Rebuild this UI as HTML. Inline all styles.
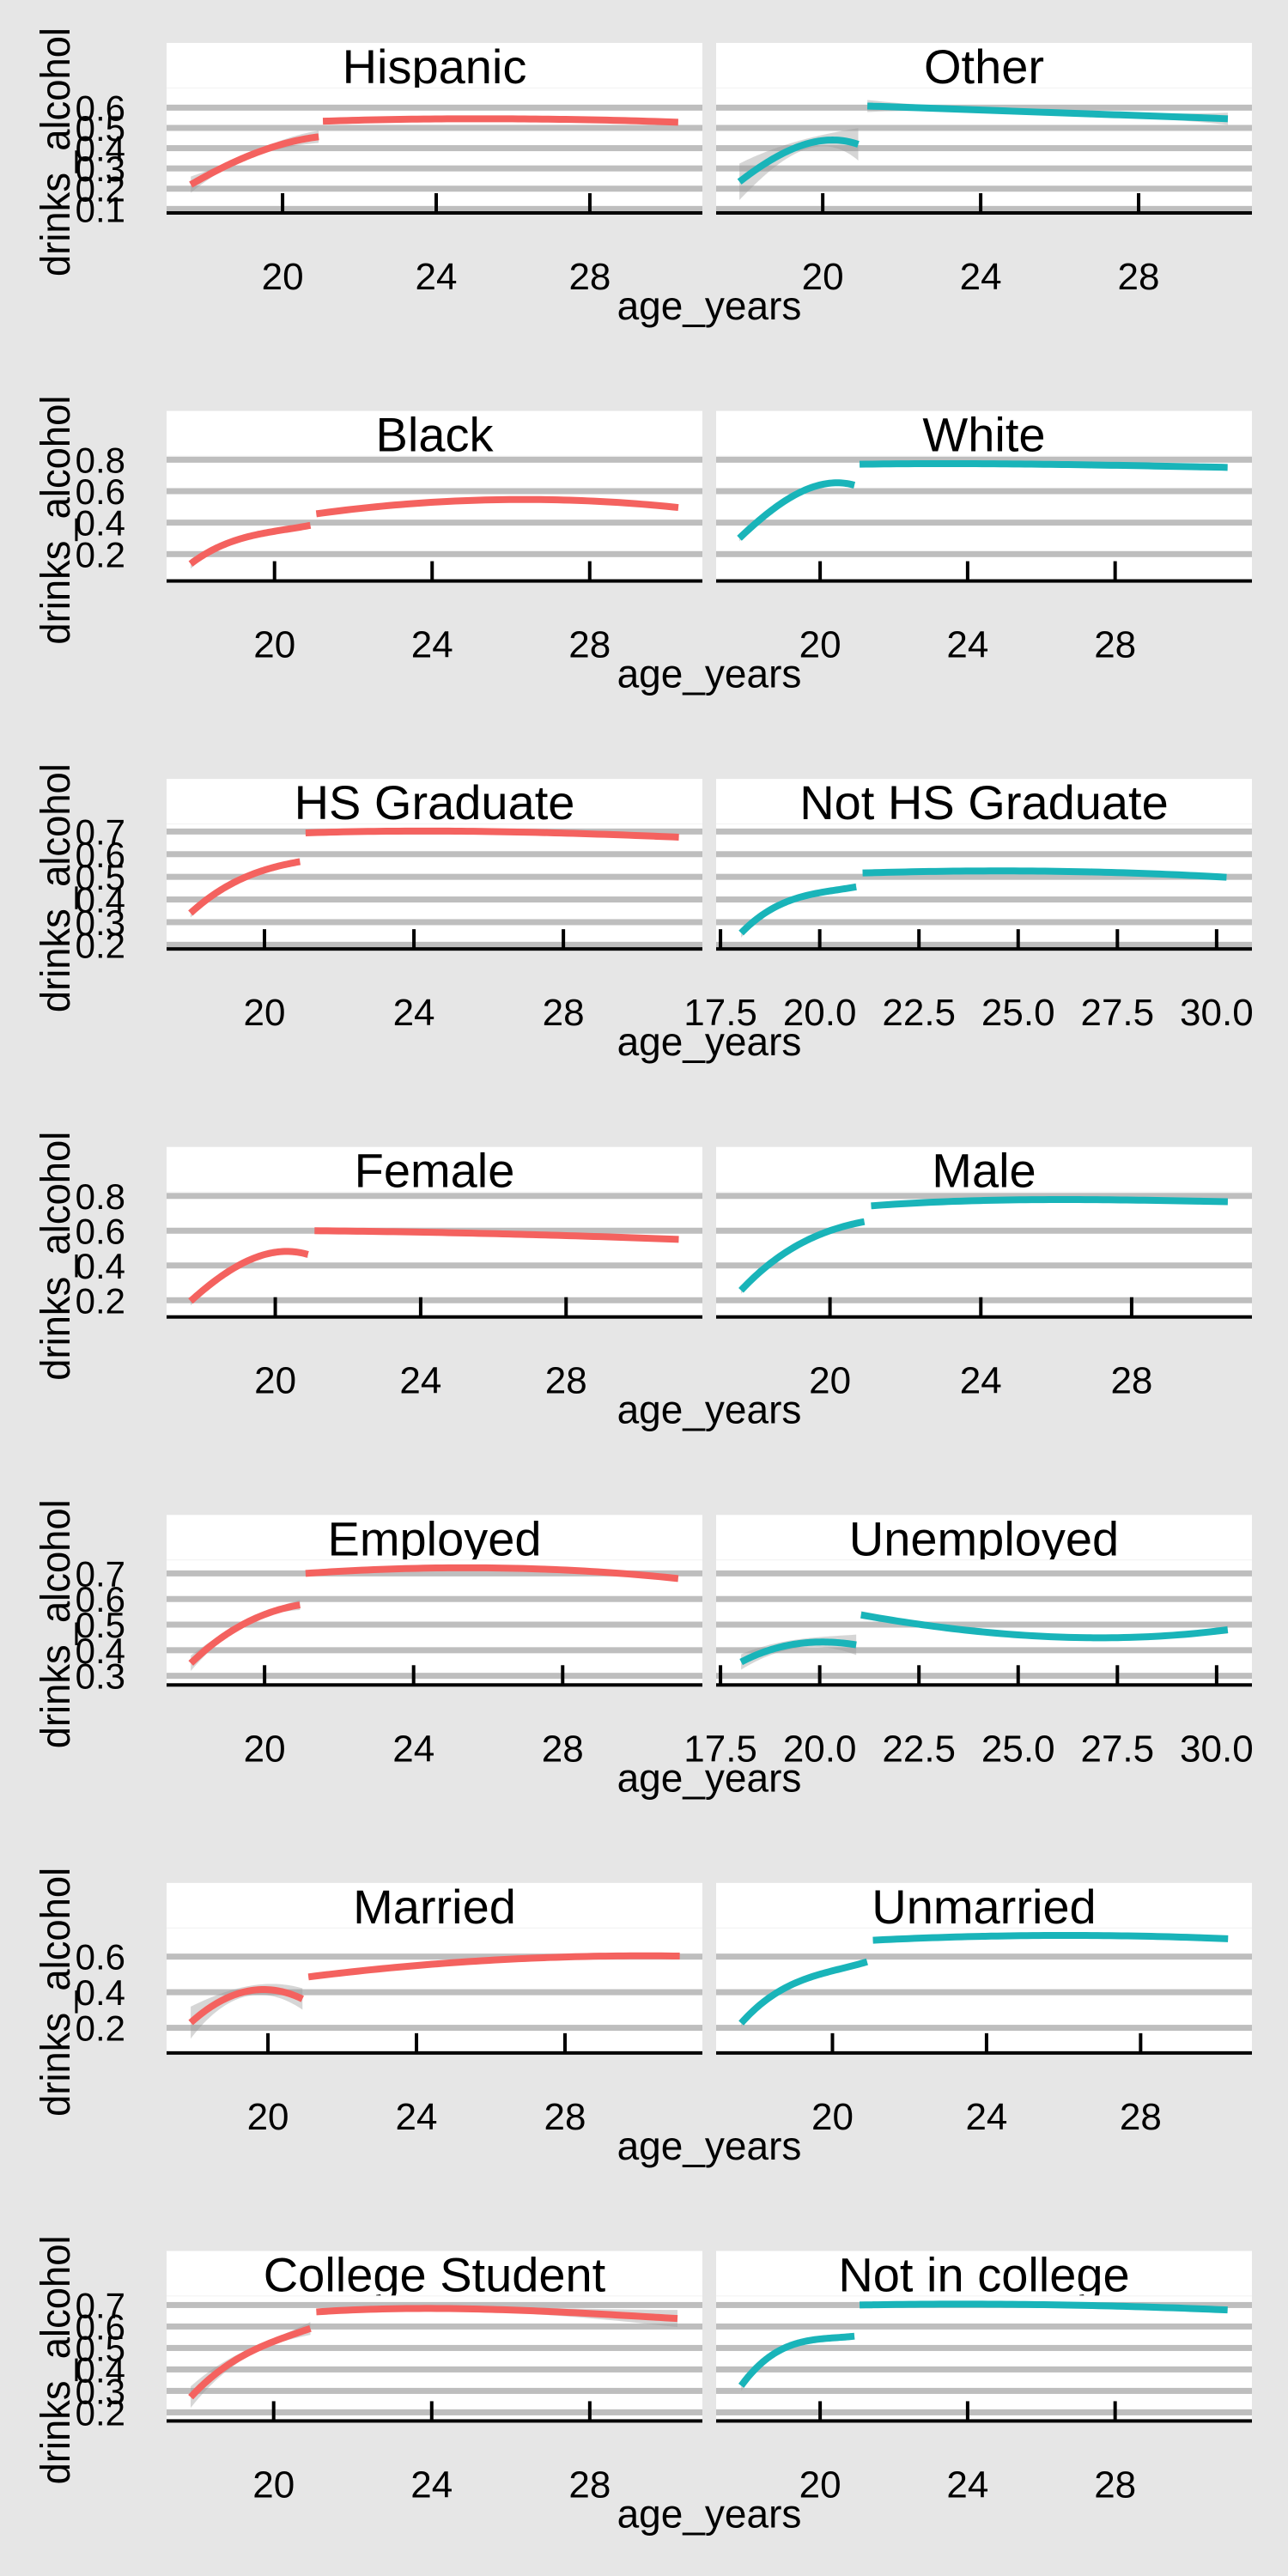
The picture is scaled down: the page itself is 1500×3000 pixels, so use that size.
<!DOCTYPE html>
<html><head><meta charset="utf-8">
<style>
html,body{margin:0;padding:0;background:#e6e6e6;}
svg{display:block;font-family:"Liberation Sans",Arial,sans-serif;}
</style></head>
<body>
<svg id="chart" width="1500" height="3000" viewBox="0 0 1500 3000" xmlns="http://www.w3.org/2000/svg">
<rect x="0" y="0" width="1500" height="3000" fill="#e6e6e6"/>
</svg>
<script>
const panelTitles = ["Hispanic","Other","Black","White","HS Graduate","Not HS Graduate","Female","Male","Employed","Unemployed","Married","Unmarried","College Student","Not in college"];
const rowYTicks = [
  [0.1,0.2,0.3,0.4,0.5,0.6],
  [0.2,0.4,0.6,0.8],
  [0.2,0.3,0.4,0.5,0.6,0.7],
  [0.2,0.4,0.6,0.8],
  [0.3,0.4,0.5,0.6,0.7],
  [0.2,0.4,0.6],
  [0.2,0.3,0.4,0.5,0.6,0.7]
];
const rowYDomain = [[0.076,0.699],[0.024,0.826],[0.178,0.735],[0.099,0.825],[0.261,0.754],[0.054,0.763],[0.156,0.744]];
const panelXDomain = [[16.98,30.93],[17.30,30.87],[17.26,30.86],[17.18,31.71],[17.38,31.72],[17.39,30.89],[17.01,31.75],[16.98,31.19],[17.37,31.75],[17.39,30.89],[17.27,31.70],[16.98,30.89],[17.29,30.85],[17.18,31.71]];
const xTicksStd = [20,24,28];
const xTicksFine = [17.5,20,22.5,25,27.5,30];
const panelUsesFineTicks = [false,false,false,false,false,true,false,false,false,true,false,false,false,false];

const seg1Ages = [
  [17.61,18.5,19.5,20.94],[17.89,18.93,20.08,20.9],[17.87,19.08,20.0,20.91],[17.81,18.93,20.49,20.93],
  [18.02,19.08,20.1,20.95],[18.02,19.01,20.0,20.92],[17.67,18.76,20.45,20.90],[17.64,18.91,20.0,20.91],
  [18.02,19.07,20.18,20.95],[18.02,18.81,20.05,20.92],[17.92,18.76,19.87,20.93],[17.63,18.87,20.0,20.90],
  [17.90,19.10,20.0,20.93],[17.86,18.93,20.2,20.93]
];
const seg1Vals = [
  [0.22,0.31,0.39,0.456],[0.234,0.368,0.439,0.419],[0.138,0.293,0.345,0.383],[0.301,0.520,0.653,0.638],
  [0.340,0.466,0.535,0.567],[0.252,0.378,0.43,0.456],[0.195,0.372,0.480,0.463],[0.257,0.487,0.60,0.652],
  [0.349,0.471,0.549,0.577],[0.354,0.404,0.432,0.421],[0.229,0.354,0.415,0.362],[0.226,0.435,0.52,0.571],
  [0.271,0.451,0.53,0.591],[0.324,0.491,0.545,0.555]
];
const seg1Se = [
  [0.04,0.015,0.015,0.03],[0.09,0.04,0.03,0.08],[0.03,0.01,0.01,0.02],[0.02,0.008,0.01,0.015],
  [0.02,0.008,0.008,0.015],[0.02,0.01,0.01,0.015],[0.025,0.01,0.01,0.02],[0.02,0.01,0.008,0.015],
  [0.03,0.01,0.01,0.02],[0.03,0.02,0.02,0.04],[0.09,0.04,0.03,0.06],[0.02,0.008,0.008,0.01],
  [0.05,0.02,0.015,0.03],[0.025,0.01,0.01,0.015]
];
const seg2Ages = [
  [21.05,23,25.5,28,30.3],[21.13,23.2,25.17,27.7,30.26],[21.06,23.46,26.38,30.25],[21.07,24.49,27.8,31.05],
  [21.1,24.36,28,31.09],[21.08,24.81,28,30.25],[21.08,25.99,31.1],[21.09,23.05,26.32,30.55],
  [21.1,25.25,28.5,31.1],[21.04,23.15,25.0,26.67,30.28],[21.09,23.84,26.67,31.09],[21.05,25.91,30.27],
  [21.08,23.89,27.63,30.22],[21.07,24.49,28,31.05]
];
const seg2Vals = [
  [0.533,0.542,0.545,0.540,0.528],[0.608,0.594,0.580,0.563,0.545],[0.456,0.520,0.547,0.496],[0.771,0.774,0.765,0.751],
  [0.694,0.702,0.693,0.675],[0.517,0.526,0.516,0.498],[0.600,0.583,0.550],[0.743,0.767,0.779,0.767],
  [0.700,0.722,0.710,0.680],[0.538,0.488,0.460,0.449,0.480],[0.486,0.547,0.587,0.603],[0.692,0.719,0.700],
  [0.668,0.684,0.664,0.637],[0.700,0.704,0.695,0.677]
];
const seg2Se = [
  [0.01,0.006,0.006,0.006,0.012],[0.03,0.012,0.01,0.012,0.03],[0.012,0.006,0.006,0.012],[0.008,0.004,0.004,0.008],
  [0.008,0.004,0.004,0.01],[0.01,0.005,0.005,0.012],[0.008,0.004,0.01],[0.01,0.005,0.005,0.01],
  [0.008,0.004,0.005,0.012],[0.015,0.008,0.008,0.008,0.015],[0.01,0.005,0.005,0.01],[0.008,0.004,0.008],
  [0.015,0.01,0.02,0.04],[0.006,0.004,0.004,0.008]
];

const NS = "http://www.w3.org/2000/svg";
const svg = document.getElementById('chart');
const ROW_H = 3000/7;
const PANEL_X = [[194,818],[834,1458]];
const COLORS = ["#f4625f","#19b4b9"];
function mk(tag, attrs, parent){
  const e = document.createElementNS(NS, tag);
  for (const k in attrs) e.setAttribute(k, attrs[k]);
  (parent||svg).appendChild(e);
  return e;
}
function lagrange(xs, ys, x){
  let s = 0;
  for (let i = 0; i < xs.length; i++){
    let t = ys[i];
    for (let j = 0; j < xs.length; j++) if (j !== i) t *= (x - xs[j])/(xs[i] - xs[j]);
    s += t;
  }
  return s;
}
function sampleSeg(ages, vals, n){
  const out = [];
  const a0 = ages[0], a1 = ages[ages.length-1];
  for (let k = 0; k <= n; k++){
    const a = a0 + (a1 - a0)*k/n;
    out.push([a, lagrange(ages, vals, a)]);
  }
  return out;
}
function poly(pts){ return pts.map((p,i)=>(i?"L":"M")+p[0].toFixed(2)+","+p[1].toFixed(2)).join(" "); }

for (let r = 0; r < 7; r++){
  const oy = r*ROW_H;
  const top = oy+102, bot = oy+249;
  const [ylo, yhi] = rowYDomain[r];
  const yScale = v => bot - (v - ylo)/(yhi - ylo)*(bot - top);

  const yt = mk('text', {x:81, y:oy+177, 'font-size':48, 'text-anchor':'middle', fill:'#000',
    transform:'rotate(-90 81 '+(oy+177)+')', textLength:290, lengthAdjust:'spacingAndGlyphs'});
  
  
  yt.textContent = 'drinks_alcohol';

  rowYTicks[r].forEach(v => {
    const t = mk('text', {x:146, y:yScale(v)+15, 'font-size':42, 'text-anchor':'end', fill:'#000'});
    
    
    t.textContent = v.toFixed(1);
  });

  const xt = mk('text', {x:826, y:oy+372, 'font-size':46, 'text-anchor':'middle', fill:'#000'});
  
  
  xt.textContent = 'age_years';

  for (let c = 0; c < 2; c++){
    const p = r*2 + c;
    const [x0, x1] = PANEL_X[c];
    const [xlo, xhi] = panelXDomain[p];
    const xScale = a => x0 + (a - xlo)/(xhi - xlo)*(x1 - x0);
    const g = mk('g', {});
    
    

    const st = mk('rect', {x:x0, y:oy+50, width:x1-x0, height:52, fill:'#ffffff'}, g);
    
    
    const stt = mk('text', {x:(x0+x1)/2, y:oy+97, 'font-size':56, 'text-anchor':'middle', fill:'#000'}, g);
    
    
    stt.textContent = panelTitles[p];

    const pb = mk('rect', {x:x0, y:top, width:x1-x0, height:bot-top, fill:'#ffffff'}, g);
    
    
    mk('line', {x1:x0, x2:x1, y1:top+0.5, y2:top+0.5, stroke:'#f3f3f3', 'stroke-width':1}, g);

    rowYTicks[r].forEach(v => {
      const gl = mk('rect', {x:x0, y:yScale(v)-3.5, width:x1-x0, height:7, fill:'#bebebe'}, g);
      
      
    });

    const cid = 'clip' + p;
    const cp = mk('clipPath', {id:cid}, g);
    mk('rect', {x:x0, y:top, width:x1-x0, height:bot-top}, cp);
    const dg = mk('g', {'clip-path':'url(#'+cid+')'}, g);

    const segs = [[seg1Ages[p], seg1Vals[p], seg1Se[p]], [seg2Ages[p], seg2Vals[p], seg2Se[p]]];
    segs.forEach((s, si) => {
      const [ages, vals, se] = s;
      const mid = sampleSeg(ages, vals, 60);
      const sd = sampleSeg(ages, se, 60);
      const up = mid.map((q,i) => [xScale(q[0]), yScale(q[1] + Math.max(0.002, sd[i][1]))]);
      const lo = mid.map((q,i) => [xScale(q[0]), yScale(q[1] - Math.max(0.002, sd[i][1]))]).reverse();
      const rib = mk('path', {d: poly(up.concat(lo)) + " Z", fill:'#999999', 'fill-opacity':0.4}, dg);
      
      
      const pts = mid.map(q => [xScale(q[0]), yScale(q[1])]);
      const ln = mk('path', {d: poly(pts), fill:'none', stroke:COLORS[c], 'stroke-width':8, 'stroke-linejoin':'round'}, dg);
      
      
    });

    const ax = mk('rect', {x:x0, y:oy+246, width:x1-x0, height:4, fill:'#000'}, g);
    
    
    const ticks = panelUsesFineTicks[p] ? xTicksFine : xTicksStd;
    ticks.forEach(tv => {
      const tx = xScale(tv);
      const tk = mk('line', {x1:tx, x2:tx, y1:oy+225, y2:oy+248, stroke:'#000', 'stroke-width':4}, g);
      
      
      const tl = mk('text', {x:tx, y:oy+337, 'font-size':44, 'text-anchor':'middle', fill:'#000'}, g);
      
      
      tl.textContent = panelUsesFineTicks[p] ? tv.toFixed(1) : String(tv);
    });
  }
}
</script>
</body></html>
